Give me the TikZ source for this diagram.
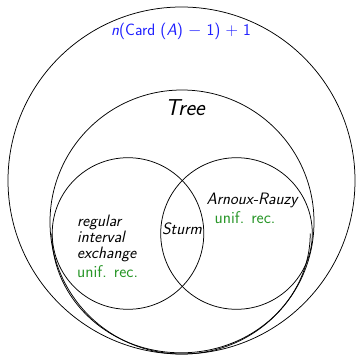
\documentclass[tikz,border=0pt]{standalone}
\usepackage{tikz}
\usetikzlibrary{positioning}
\definecolor{recgreen}{RGB}{40,150,40}
\definecolor{cardblue}{RGB}{30,30,255}
\tikzset{
  setcirc/.style={draw, circle, inner sep=0pt, minimum size=#1, line width=0.75pt},
  lbl/.style={font=\sffamily\fontsize{16.5}{15.8}\selectfont\itshape, inner sep=0pt},
  rec/.style={font=\sffamily\fontsize{17}{15}\selectfont, text=recgreen, inner sep=0pt},
}

\begin{document}
\begin{tikzpicture}[x=1pt,y=1pt]
  \useasboundingbox (0,0) rectangle (356,354);
  % the sets
  \node[setcirc=347pt]   (cpx)  at (181.5,173.5) {};
  \node[setcirc=264pt]   (tree) at (182,132)     {};
  \node[setcirc=151.6pt] (iet)  at (128,120.5)   {};
  \node[setcirc=151.6pt] (ar)   at (236.5,120.5) {};
  \draw[line width=0.75pt] (iet.west) arc[start angle=180, end angle=360,
        x radius=129.2, y radius=119.3];

  % labels
  \node[font=\sffamily\fontsize{16.5}{15}\selectfont, text=cardblue, inner sep=0pt]
        (cpxlbl) at (181,323) {\textit{n}(Card (\textit{A}) $-$ 1) $+$ 1};
  \node[lbl, font=\sffamily\fontsize{23}{26}\selectfont\itshape]
        (treelbl) at (185,246) {Tree};
  \node[lbl, align=left, anchor=north west] (ietlbl) at (77,139)
        {regular\\interval\\exchange};
  \node[rec, below=4pt of ietlbl.south west, anchor=north west] (ietrec) {unif. rec.};
  \node[lbl] (sturmlbl) at (182,125) {Sturm};
  \node[lbl] (arlbl) at (252,154) {Arnoux-Rauzy};
  \node[rec] (arrec) at (245,136) {unif. rec.};
\end{tikzpicture}
\end{document}
